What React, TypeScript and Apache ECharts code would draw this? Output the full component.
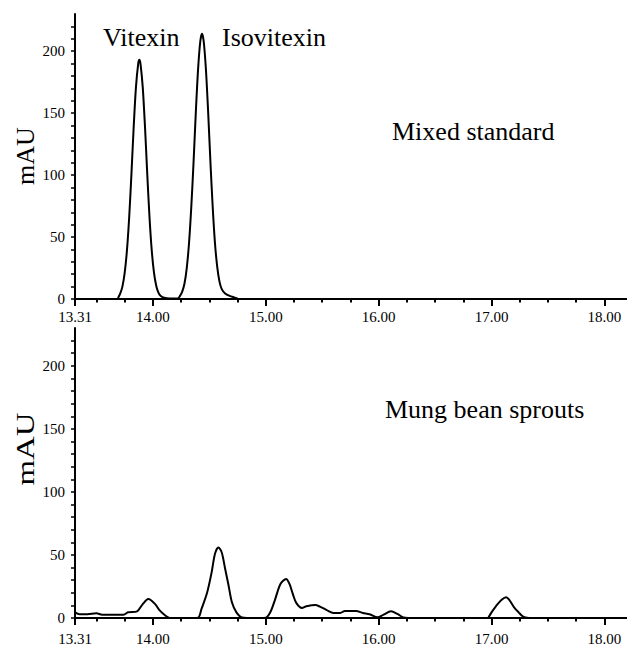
import React, { useEffect, useRef } from "react";
import * as echarts from "echarts";

// Retention time (min), absorbance (mAU)
const stdTime = [
  13.69, 13.71, 13.73, 13.75, 13.77, 13.79, 13.81, 13.83, 13.85, 13.87, 13.88, 13.89,
  13.91, 13.93, 13.95, 13.97, 13.99, 14.01, 14.03, 14.05, 14.07, 14.1, 14.15, 14.22,
  14.24, 14.26, 14.28, 14.3, 14.32, 14.34, 14.36, 14.38, 14.4, 14.42, 14.435, 14.45,
  14.47, 14.49, 14.51, 14.53, 14.55, 14.57, 14.59, 14.61, 14.64, 14.68, 14.72, 14.75,
];
const stdMAU = [
  0.5, 4.3, 10, 21, 39, 66, 101, 139, 171, 190, 193, 190,
  171, 139, 101, 66, 39, 21, 10.5, 5, 2.5, 1, 0.5, 0.5,
  2.5, 6, 12.5, 25, 45, 74, 110, 150, 185, 208, 214, 208,
  185, 150, 110, 74, 45, 26, 14, 8, 4.5, 2.5, 1.3, 0.5,
];

const sproutTime = [
  13.31, 13.35, 13.42, 13.5, 13.55, 13.65, 13.74, 13.78, 13.86, 13.91, 13.96, 14.02,
  14.06, 14.11, 14.15, 14.3, 14.4, 14.43, 14.48, 14.52, 14.55, 14.58, 14.61, 14.64,
  14.67, 14.7, 14.74, 14.79, 14.9, 15.0, 15.04, 15.08, 15.13, 15.18, 15.21, 15.24,
  15.27, 15.32, 15.36, 15.44, 15.48, 15.54, 15.6, 15.66, 15.7, 15.8, 15.86, 15.92,
  15.99, 16.04, 16.11, 16.17, 16.22, 16.32,
];
const sproutMAU = [
  4.5, 3, 3, 3.7, 2.6, 2.6, 2.6, 4.5, 5.3, 11, 15, 11,
  6, 2, 0, 0, 0.3, 7, 20, 36, 51, 56, 52, 39,
  26, 12.5, 4.5, 0.5, 0, 0.3, 4.5, 14, 27, 31, 27, 19,
  12, 8, 9.3, 10.3, 9, 6.3, 4, 4, 5.5, 5.5, 4, 3,
  0.5, 2.5, 5.3, 3, 0.5, 0,
];
const sproutTime2 = [16.97, 17.0, 17.04, 17.09, 17.13, 17.16, 17.2, 17.24, 17.28, 17.33];
const sproutMAU2 = [0, 4.5, 9.5, 14.5, 16.5, 14, 8.5, 4.5, 1, 0];

const xLabels = [13.31, 14, 15, 16, 17, 18];
const xMinorTicks = [
  13.5, 13.75, 14.25, 14.5, 14.75, 15.25, 15.5, 15.75, 16.25, 16.5, 16.75,
  17.25, 17.5, 17.75,
];
const yLabels = [0, 50, 100, 150, 200];
const yTicks = [
  0, 10, 20, 30, 40, 50, 60, 70, 80, 90, 100, 110, 120, 130, 140, 150, 160, 170,
  180, 190, 200, 210, 220,
];

const FONT = "Liberation Serif";

function zip(xs: number[], ys: number[]) {
  return xs.map((x, i) => [x, ys[i]]);
}

export default function App() {
  const ref = useRef<HTMLDivElement>(null);
  useEffect(() => {
    if (!ref.current) return;
    const chart = echarts.init(ref.current, null, { renderer: "svg" });
    const xMain = (grid: number, margin: number) => ({
      type: "value",
      gridIndex: grid,
      position: "bottom",
      min: 13.31,
      max: 18.2,
      axisLine: { show: true, onZero: false, lineStyle: { color: "#000", width: 2 } },
      axisTick: { show: true, customValues: xLabels, length: 7, lineStyle: { color: "#000", width: 2 } },
      axisLabel: {
        customValues: xLabels,
        formatter: (v: number) => v.toFixed(2),
        margin,
        fontFamily: FONT,
        fontSize: 15,
        color: "#000",
      },
      splitLine: { show: false },
    });
    const xMinor = (grid: number) => ({
      type: "value",
      gridIndex: grid,
      position: "bottom",
      min: 13.31,
      max: 18.2,
      axisLine: { show: false },
      axisTick: { show: true, customValues: xMinorTicks, length: 3.5, lineStyle: { color: "#000", width: 2 } },
      axisLabel: { show: false },
      splitLine: { show: false },
    });
    const yAx = (grid: number) => ({
      type: "value",
      gridIndex: grid,
      min: 0,
      max: 230,
      axisLine: { show: true, onZero: false, lineStyle: { color: "#000", width: 2 } },
      axisTick: { show: true, customValues: yTicks, length: 4, lineStyle: { color: "#000", width: 1.5 } },
      axisLabel: {
        customValues: yLabels,
        margin: 10,
        fontFamily: FONT,
        fontSize: 15,
        color: "#000",
      },
      splitLine: { show: false },
    });
    const lineStyle = { color: "#000", width: 2 };
    const textStyle = (text: string) => ({ text, fontFamily: FONT, fontSize: 26, fill: "#000" });
    chart.setOption({
      animation: false,
      backgroundColor: "#fff",
      grid: [
        { left: 75, top: 14, width: 552, height: 285 },
        { left: 75, top: 328, width: 552, height: 291 },
      ],
      xAxis: [xMain(0, 10), xMinor(0), xMain(1, 13), xMinor(1)],
      yAxis: [yAx(0), yAx(1)],
      series: [
        {
          type: "line",
          xAxisIndex: 0,
          yAxisIndex: 0,
          data: zip(stdTime, stdMAU),
          showSymbol: false,
          smooth: 0.3,
          lineStyle,
        },
        {
          type: "line",
          xAxisIndex: 2,
          yAxisIndex: 1,
          data: zip(sproutTime, sproutMAU),
          showSymbol: false,
          smooth: 0.3,
          lineStyle,
        },
        {
          type: "line",
          xAxisIndex: 2,
          yAxisIndex: 1,
          data: zip(sproutTime2, sproutMAU2),
          showSymbol: false,
          smooth: 0.3,
          lineStyle,
        },
      ],
      graphic: [
        { type: "text", x: 103, y: 37, style: { ...textStyle("Vitexin"), verticalAlign: "middle" } },
        { type: "text", x: 222, y: 37, style: { ...textStyle("Isovitexin"), verticalAlign: "middle" } },
        { type: "text", x: 392, y: 131, style: { ...textStyle("Mixed standard"), verticalAlign: "middle" } },
        { type: "text", x: 385, y: 409, style: { ...textStyle("Mung bean sprouts"), verticalAlign: "middle" } },
        {
          type: "text",
          x: 25,
          y: 156,
          rotation: Math.PI / 2,
          style: { ...textStyle("mAU"), align: "center", verticalAlign: "middle" },
        },
        {
          type: "text",
          x: 25,
          y: 449,
          rotation: Math.PI / 2,
          scaleX: 1.26,
          style: { ...textStyle("mAU"), align: "center", verticalAlign: "middle" },
        },
      ],
    });
    return () => chart.dispose();
  }, []);
  return (
    <div
      ref={ref}
      style={{ position: "absolute", left: 0, top: 0, width: 627, height: 646 }}
    />
  );
}
